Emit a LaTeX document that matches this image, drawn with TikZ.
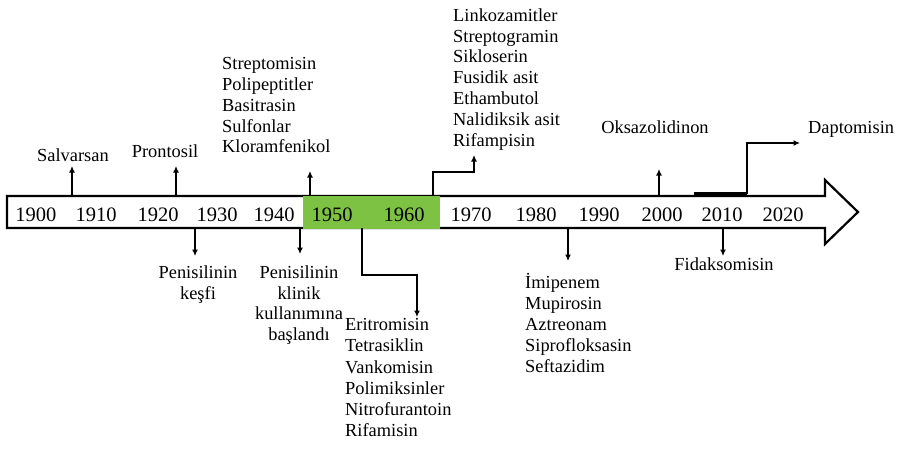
\documentclass[tikz,border=0pt]{standalone}
\usepackage{fontspec}
\setmainfont{Liberation Serif}
\usetikzlibrary{arrows.meta}
\definecolor{bargreen}{RGB}{125,194,66}
\tikzset{
  conn/.style={line width=1.6pt,-{Latex[length=6.5pt,width=6pt]}},
  plain/.style={line width=1.6pt},
  year/.style={font=\fontsize{20.5}{24}\selectfont,anchor=base,inner sep=0pt},
  lbl/.style={font=\fontsize{18.4}{20.8}\selectfont,inner sep=0pt},
  blk/.style={font=\fontsize{18.4}{20.8}\selectfont,inner sep=0pt,align=left,anchor=north west},
  cblk/.style={font=\fontsize{18.4}{20.7}\selectfont,inner sep=0pt,align=center,anchor=north},
}
\begin{document}
\begin{tikzpicture}[x=1pt,y=-1pt]
\useasboundingbox[fill=white] (0,0) rectangle (898,451);
% timeline arrow
\draw[line width=2.2pt,line join=miter] (7,196) -- (825,196) -- (825,180) -- (858,212) -- (825,244) -- (825,228) -- (7,228) -- cycle;
\fill[bargreen] (303,195.5) rectangle (440,228.5);
% years
\node[year] (y1900) at (36,221) {1900};
\node[year] (y1910) at (96,221) {1910};
\node[year] (y1920) at (158,221) {1920};
\node[year] (y1930) at (217,221) {1930};
\node[year] (y1940) at (274,221) {1940};
\node[year] (y1950) at (332,221) {1950};
\node[year] (y1960) at (404,221) {1960};
\node[year] (y1970) at (471,221) {1970};
\node[year] (y1980) at (536,221) {1980};
\node[year] (y1990) at (599,221) {1990};
\node[year] (y2000) at (662,221) {2000};
\node[year] (y2010) at (722,221) {2010};
\node[year] (y2020) at (783,221) {2020};
% upper labels
\node[lbl,anchor=base] (salv) at (73,161) {Salvarsan};
\node[lbl,anchor=base] (pron) at (165,157) {Prontosil};
\node[blk] (strep) at (222,57.4) {Streptomisin\\Polipeptitler\\Basitrasin\\Sulfonlar\\Kloramfenikol};
\node[blk] (linko) at (453,8.4) {Linkozamitler\\Streptogramin\\Sikloserin\\Fusidik asit\\Ethambutol\\Nalidiksik asit\\Rifampisin};
\node[lbl,anchor=base] (oksa) at (655,133) {Oksazolidinon};
\node[lbl,anchor=base west] (dapto) at (808,133) {Daptomisin};
% lower labels
\node[cblk] (pen1) at (198,265.4) {Penisilinin\\keşfi};
\node[cblk] (pen2) at (299,265.4) {Penisilinin\\klinik\\kullanımına\\başlandı};
\node[blk,font=\fontsize{18.4}{21.2}\selectfont] (eri) at (345,318.4) {Eritromisin\\Tetrasiklin\\Vankomisin\\Polimiksinler\\Nitrofurantoin\\Rifamisin};
\node[blk,font=\fontsize{18.4}{21}\selectfont] (imi) at (525,276.4) {\smash{İ}mipenem\\Mupirosin\\Aztreonam\\Siprofloksasin\\Seftazidim};
\node[lbl,anchor=base] (fida) at (724,270) {Fidaksomisin};
% connector points
\coordinate (a1) at (72,196);  \coordinate (b1) at (72,166);
\coordinate (a2) at (176,196); \coordinate (b2) at (176,166);
\coordinate (a3) at (310,196); \coordinate (b3) at (310,171);
\coordinate (a4) at (433,196); \coordinate (b4) at (474,155);
\coordinate (a5) at (659,196); \coordinate (b5) at (659,169);
\coordinate (a6) at (694,194); \coordinate (k6) at (747,194); \coordinate (b6) at (800,143);
\coordinate (c1) at (195,228); \coordinate (d1) at (195,256);
\coordinate (c2) at (300,228); \coordinate (d2) at (300,254);
\coordinate (c3) at (362,228); \coordinate (d3) at (417,317);
\coordinate (c4) at (568,228); \coordinate (d4) at (568,261);
\coordinate (c5) at (723,228); \coordinate (d5) at (723,256);
% connectors
\draw[conn] (a1) -- (b1);
\draw[conn] (a2) -- (b2);
\draw[conn] (a3) -- (b3);
\draw[conn] (a4) |- (453,172) -| (b4);
\draw[conn] (a5) -- (b5);
\draw[line width=3.2pt] (a6) -- (k6);
\draw[conn] (k6) |- (b6);
\draw[conn] (c1) -- (d1);
\draw[conn] (c2) -- (d2);
\draw[conn] (c3) |- (390,275) -| (d3);
\draw[conn] (c4) -- (d4);
\draw[conn] (c5) -- (d5);
\end{tikzpicture}
\end{document}
